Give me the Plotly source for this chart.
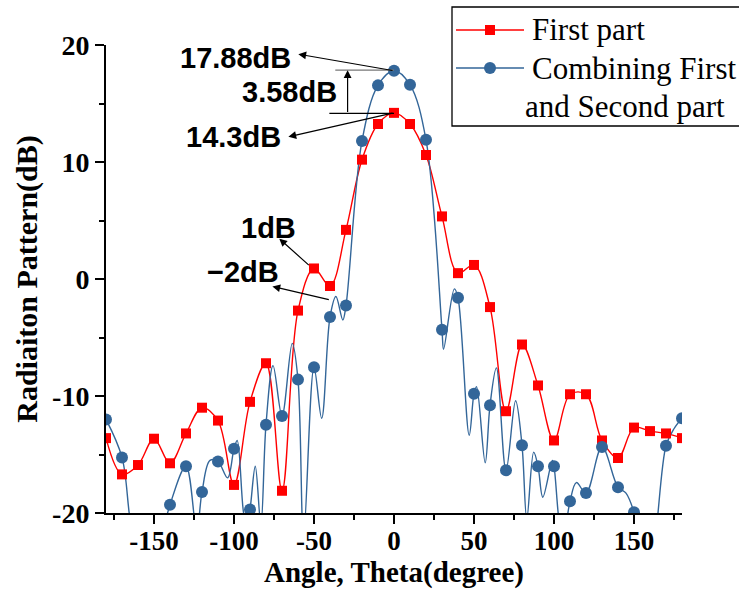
import plotly.graph_objects as go

# ---------------- data ----------------
angles = list(range(-180, 181, 10))

first_part = [-13.6, -16.7, -15.9, -13.65, -15.75, -13.2, -11.0, -12.1, -17.6, -10.5,
              -7.2, -18.1, -2.7, 0.9, -0.6, 4.2, 10.2, 13.25, 14.2, 13.25,
              10.6, 5.35, 0.5, 1.2, -2.4, -11.3, -5.6, -9.1, -13.8, -9.85,
              -9.85, -13.8, -15.3, -12.7, -13.0, -13.2, -13.6]

combined = [-12.0, -15.25, -24.0, -25.0, -19.3, -16.0, -18.2, -15.6, -14.5, -19.7,
            -12.45, -11.7, -8.6, -7.55, -3.25, -2.26, 11.8, 16.55, 17.8, 16.6,
            11.9, -4.33, -1.6, -9.8, -10.8, -16.35, -14.2, -16.0, -16.0, -19.0,
            -18.3, -14.35, -17.8, -19.93, -24.0, -14.25, -11.9]

# extra hand-read turning points of the combined pattern between the markers
combined_extra_angles = [-165, -145, -123.3, -115, -104, -98, -94, -92, -86.7, -83.2,
                         -75.6, -63.6, -56.5, -45.2, -36.3, -32, 31, 37.7, 47, 51.6,
                         57, 64, 76, 83, 87.3, 93, 99, 103, 105.5, 114,
                         145, 155, 175]
combined_extra_values = [-20.5, -22.0, -21.5, -15.5, -17.0, -13.8, -20.0, -21.0, -16.0, -21.0,
                         -7.4, -5.5, -22.0, -11.9, -1.5, -3.5, -6.0, -0.84, -13.35, -9.2,
                         -15.7, -7.6, -10.4, -20.5, -14.8, -18.65, -15.5, -20.5, -22.5, -17.4,
                         -18.3, -23.0, -12.8]

x_tick_vals = [-150, -100, -50, 0, 50, 100, 150]
x_tick_text = ["-150", "-100", "-50", "0", "50", "100", "150"]
y_tick_vals = [-20, -10, 0, 10, 20]
y_tick_text = ["-20", "-10", "0", "10", "20"]

series_names = ["First part", "Combining First", "and Second part"]

RED = "#FF0000"
BLUE = "#336699"
SERIF = "Liberation Serif, Times New Roman, serif"
SANS = "Liberation Sans, Arial, sans-serif"

# merge blue line points
pts = sorted(list(zip(angles, combined)) + list(zip(combined_extra_angles, combined_extra_values)))
blue_line_x = [p[0] for p in pts]
blue_line_y = [p[1] for p in pts]

fig = go.Figure()

fig.add_trace(go.Scatter(x=angles, y=first_part, mode="lines",
                         line=dict(color=RED, width=1.4, shape="spline", smoothing=1.0),
                         showlegend=False, hoverinfo="skip"))
fig.add_trace(go.Scatter(x=blue_line_x, y=blue_line_y, mode="lines",
                         line=dict(color=BLUE, width=1.4, shape="spline", smoothing=1.0),
                         showlegend=False, hoverinfo="skip"))
fig.add_trace(go.Scatter(x=angles, y=first_part, mode="markers",
                         marker=dict(symbol="square", size=10, color=RED),
                         showlegend=False))
fig.add_trace(go.Scatter(x=angles, y=combined, mode="markers",
                         marker=dict(symbol="circle", size=12, color=BLUE),
                         showlegend=False))

W, H = 739, 589
ML, MR, MT, MB = 106, 57, 45, 76
PW, PH = W - ML - MR, H - MT - MB


def px2paper(px, py):
    return (px - ML) / PW, (H - MB - py) / PH


shapes = []
annotations = []

# ---------- annotations on the chart ----------
def label(x, y, text):
    annotations.append(dict(x=x, y=y, xref="x", yref="y", text=text, showarrow=False,
                            font=dict(family=SANS, size=29, color="black", weight="bold"),
                            xanchor="center", yanchor="middle"))


def arrow(x_tip, y_tip, x_tail, y_tail):
    annotations.append(dict(x=x_tip, y=y_tip, ax=x_tail, ay=y_tail, xref="x", yref="y",
                            axref="x", ayref="y", text="", showarrow=True,
                            arrowhead=2, arrowsize=1.3, arrowwidth=1.2, arrowcolor="black"))


label(-99, 18.88, "17.88dB")
arrow(-59.8, 19.22, 0, 17.8)
label(-65.4, 15.98, "3.58dB")
arrow(-29, 17.85, -29, 14.15)
shapes.append(dict(type="line", xref="x", yref="y", x0=-36.7, x1=0, y0=17.85, y1=17.85,
                   line=dict(color="#777777", width=1.3)))
shapes.append(dict(type="line", xref="x", yref="y", x0=-40.4, x1=0, y0=14.15, y1=14.15,
                   line=dict(color="black", width=1.3)))
label(-100.4, 12.15, "14.3dB")
arrow(-66, 12.15, 0, 14.2)
label(-78.6, 4.39, "1dB")
arrow(-71.7, 3.45, -52.3, 1.07)
label(-94.5, 0.64, "\u22122dB")
arrow(-76, -0.64, -39.8, -1.8)

# ---------- manual legend ----------
bx0, by0 = px2paper(452, 7)
bx1, by1 = px2paper(760, 126)
shapes.append(dict(type="rect", xref="paper", yref="paper", x0=bx0, y0=by1, x1=bx1, y1=by0,
                   line=dict(color="black", width=1.3), fillcolor="white", layer="above"))
for i, (py, color, sym) in enumerate([(30, RED, "square"), (68, BLUE, "circle")]):
    lx0, ly = px2paper(456, py)
    lx1, _ = px2paper(524, py)
    shapes.append(dict(type="line", xref="paper", yref="paper", x0=lx0, x1=lx1, y0=ly, y1=ly,
                       line=dict(color=color, width=1.4), layer="above"))
    r = 5 if sym == "square" else 6
    mx0, my0 = px2paper(490 - r, py + r)
    mx1, my1 = px2paper(490 + r, py - r)
    shapes.append(dict(type="rect" if sym == "square" else "circle", xref="paper", yref="paper",
                       x0=mx0, x1=mx1, y0=my0, y1=my1, line=dict(color=color, width=0),
                       fillcolor=color, layer="above"))
for text, lx, py in [(series_names[0], 530, 30), (series_names[1], 530, 68), (series_names[2], 523, 107)]:
    tx, ty = px2paper(lx, py)
    annotations.append(dict(x=tx, y=ty, xref="paper", yref="paper", text=text, showarrow=False,
                            xanchor="left", yanchor="middle",
                            font=dict(family=SERIF, size=31, color="black")))

axis_common = dict(showline=True, linecolor="black", linewidth=2, ticks="outside",
                   ticklen=9, tickwidth=2, tickcolor="black", showgrid=False, zeroline=False,
                   mirror=False)

fig.update_layout(
    width=W, height=H,
    margin=dict(l=ML, r=MR, t=MT, b=MB, autoexpand=False),
    paper_bgcolor="white", plot_bgcolor="white",
    showlegend=False,
    shapes=shapes, annotations=annotations,
    xaxis=dict(range=[-180, 180], tickvals=x_tick_vals, ticktext=x_tick_text,
               ticklabelstandoff=-6,
               tickfont=dict(family=SERIF, size=27, color="black", weight="bold"),
               minor=dict(tickvals=[-175, -125, -75, -25, 25, 75, 125, 175], ticklen=5,
                          tickwidth=2, tickcolor="black", ticks="outside"),
               title=dict(text="Angle, Theta(degree)", standoff=8,
                          font=dict(family=SERIF, size=29, color="black", weight="bold")),
               automargin=False, **axis_common),
    yaxis=dict(range=[-20, 20], tickvals=y_tick_vals, ticktext=y_tick_text,
               tickfont=dict(family=SERIF, size=28, color="black", weight="bold"),
               minor=dict(tickvals=[-15, -5, 5, 15], ticklen=5, tickwidth=2,
                          tickcolor="black", ticks="outside"),
               title=dict(text="Radiaiton Pattern(dB)", standoff=6,
                          font=dict(family=SERIF, size=30, color="black", weight="bold")),
               automargin=False, **axis_common),
)

fig.write_html("out.html")
